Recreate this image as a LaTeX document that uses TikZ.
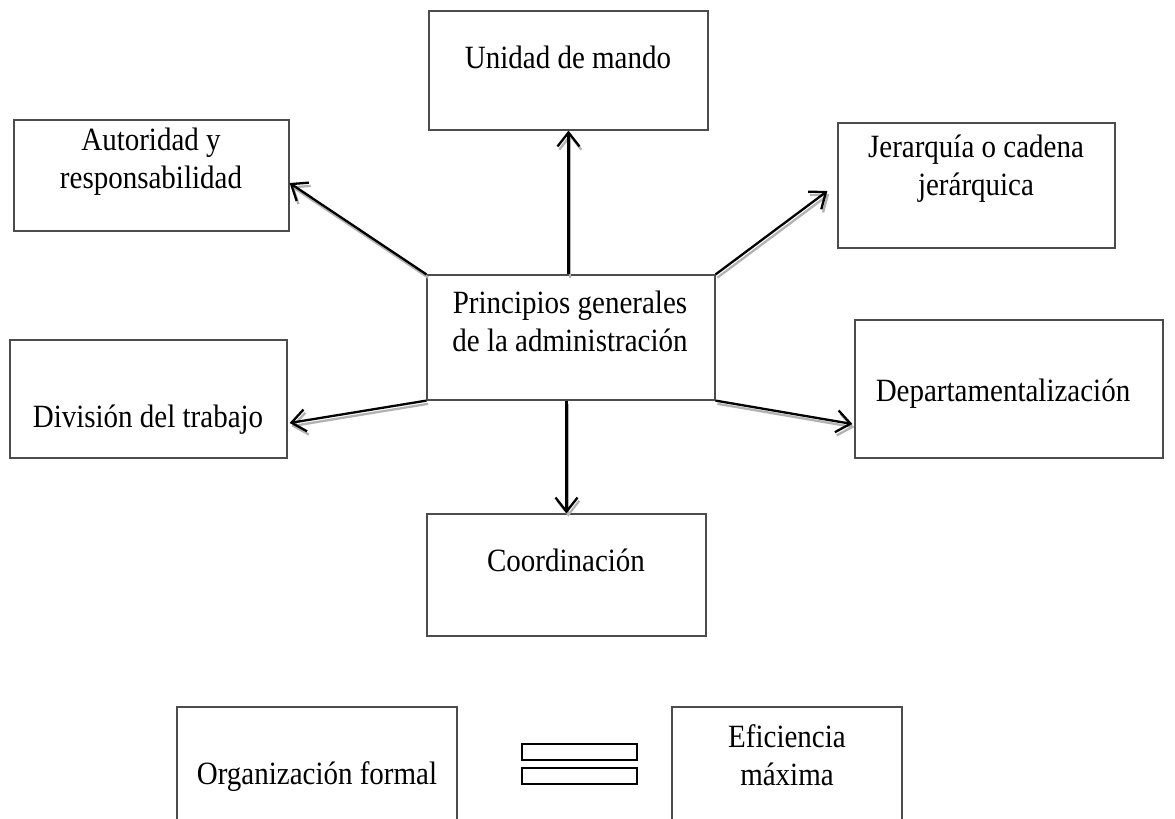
\documentclass[tikz,border=0pt]{standalone}
\usepackage{fontspec}
\setmainfont{Liberation Serif}
\usetikzlibrary{arrows.meta,calc}
\newcommand\boxtext[1]{\scalebox{1}[1.12]{\begin{tabular}[t]{@{}c@{}}#1\end{tabular}}}
\tikzset{
  frame/.style={draw=black!70, line width=1.2pt, inner sep=0pt, fill=none},
  words/.style={anchor=base, inner sep=0pt, font=\fontsize{29}{34}\selectfont},
  link/.style={line width=2.3pt, -{Straight Barb[length=14pt,width=22pt]}},
  linkshade/.style={link, draw=black!30},
  bar/.style={draw=black, line width=2pt, inner sep=0pt, minimum width=115pt, minimum height=16pt}
}
% connector with a soft grey drop shadow beneath it
\newcommand\connect[2]{%
  \begin{scope}[transform canvas={xshift=1.8pt,yshift=-3.2pt}]
    \draw[linkshade] #1 -- #2;
  \end{scope}
  \draw[link] #1 -- #2;}
\begin{document}
\begin{tikzpicture}[x=1pt,y=-1pt]
\useasboundingbox (0,0) rectangle (1175,819);
\clip (0,0) rectangle (1175,819);

% boxes
\node[frame, minimum width=279pt, minimum height=119pt] (unidad)     at (568.5,70.5) {};
\node[frame, minimum width=275pt, minimum height=111pt] (autoridad)  at (151.5,175.5) {};
\node[frame, minimum width=277pt, minimum height=125pt] (jerarquia)  at (976.5,185.5) {};
\node[frame, minimum width=288pt, minimum height=125pt] (principios) at (571,337.5) {};
\node[frame, minimum width=277pt, minimum height=118pt] (division)   at (148.5,399) {};
\node[frame, minimum width=308pt, minimum height=138pt] (depto)      at (1009,389) {};
\node[frame, minimum width=279pt, minimum height=122pt] (coord)      at (566.5,575) {};
\node[frame, minimum width=280pt, minimum height=130pt] (formal)     at (317,772) {};
\node[frame, minimum width=230pt, minimum height=130pt] (eficiencia) at (787,772) {};

% texts
\node[words] (tUnidad)     at (568,68)  {\boxtext{Unidad de mando}};
\node[words] (tAutoridad)  at (151,150) {\boxtext{Autoridad y\\responsabilidad}};
\node[words] (tJerarquia)  at (976,157) {\boxtext{Jerarquía o cadena\\jerárquica}};
\node[words] (tPrincipios) at (570,313) {\boxtext{Principios generales\\de la administración}};
\node[words] (tDivision)   at (148,427) {\boxtext{División del trabajo}};
\node[words] (tDepto)      at (1003,401) {\boxtext{Departamentalización}};
\node[words] (tCoord)      at (566,571) {\boxtext{Coordinación}};
\node[words] (tFormal)     at (317,784) {\boxtext{Organización formal}};
\node[words] (tEficiencia) at (787,747) {\boxtext{Eficiencia\\máxima}};

% equals sign
\node[bar] (eqtop) at (579.5,752) {};
\node[bar] (eqbot) at (579.5,776) {};

% connectors
\connect{(principios.north -| unidad.south)}{(unidad.south)}
\connect{(principios.north west)}{($(autoridad.east)+(0,7.5)$)}
\connect{(principios.north east)}{($(jerarquia.west)+(-10,5.5)$)}
\connect{(principios.south west)}{($(division.east)+(2,24)$)}
\connect{(principios.south east)}{($(depto.west)+(-2,35)$)}
\connect{(coord.north |- principios.south)}{(coord.north)}
\end{tikzpicture}
\end{document}
